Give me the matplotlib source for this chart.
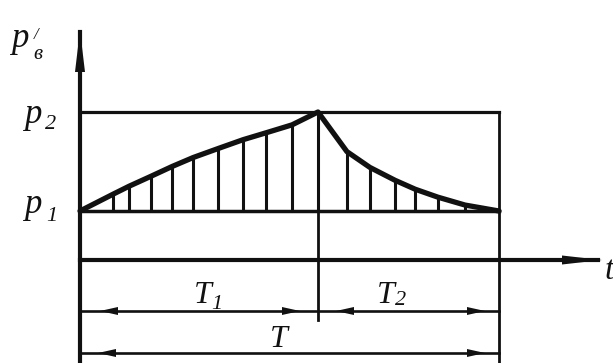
import numpy as np
import matplotlib.pyplot as plt
from matplotlib.patches import Polygon

# pressure levels and time split of one cycle
p1, p2 = 1.0, 2.0
T, T1 = 1.0, 0.568

# rising branch p'(t) over T1
t_rise = [0.0, 0.079, 0.117, 0.169, 0.220, 0.270, 0.329, 0.389, 0.444, 0.506, 0.568]
p_rise = [1.0, 1.17, 1.25, 1.35, 1.45, 1.54, 1.63, 1.72, 1.79, 1.87, 2.0]
# falling branch over T2
t_fall = [0.568, 0.637, 0.692, 0.752, 0.800, 0.854, 0.919, 1.0]
p_fall = [2.0, 1.60, 1.44, 1.31, 1.22, 1.14, 1.06, 1.0]

# page layout in pixels
W, H = 613, 363
X0, X1 = 80, 499      # columns of t=0 and t=T
Y1, Y2 = 211, 112     # rows of p1 and p2
sx = (X1 - X0) / T
sy = (Y1 - Y2) / (p2 - p1)


def tx(x):
    return (x - X0) / sx


def py(y):
    return p1 + (Y1 - y) / sy


fig = plt.figure(figsize=(W / 100, H / 100), dpi=100)
ax = fig.add_axes([0, 0, 1, 1])
ax.set_xlim(tx(0), tx(W))
ax.set_ylim(py(H), py(0))
ax.set_axis_off()

k = '#111111'


def head(x, y, d, length=18, width=8):
    if d in 'lr':
        s = 1 if d == 'r' else -1
        bx = x - s * length / sx
        pts = [(x, y), (bx, y + width / 2 / sy), (bx, y - width / 2 / sy)]
    else:
        by = y - length / sy
        pts = [(x, y), (x - width / 2 / sx, by), (x + width / 2 / sx, by)]
    ax.add_patch(Polygon(pts, closed=True, color=k, lw=0))


# axes
ax.plot([0, 0], [py(H), py(32)], color=k, lw=3.0)
head(0, py(30), 'u', 42, 10)
t_axis = py(260)
ax.plot([0, tx(598)], [t_axis, t_axis], color=k, lw=3.0)
head(tx(602), t_axis, 'r', 40, 9)

# frame p1..p2
ax.plot([0, T], [p2, p2], color=k, lw=2.3)
ax.plot([0, T], [p1, p1], color=k, lw=2.5)
ax.plot([T, T], [p2, py(H)], color=k, lw=2.0)
ax.plot([T1, T1], [p2, py(320)], color=k, lw=2.0)

# curve and hatching
t_all = t_rise + t_fall[1:]
p_all = p_rise + p_fall[1:]
ax.plot(t_all, p_all, color=k, lw=3.8, solid_joinstyle='round', solid_capstyle='round')
ax.vlines(t_all[1:-1], p1, p_all[1:-1], color=k, lw=2.2)

# dimension lines
d1 = py(311)
ax.plot([0, T], [d1, d1], color=k, lw=1.9)
head(20 / sx, d1, 'l')
head(T1 - 18 / sx, d1, 'r')
head(T1 + 18 / sx, d1, 'l')
head(T - 14 / sx, d1, 'r')
d2 = py(353)
ax.plot([0, T], [d2, d2], color=k, lw=1.9)
head(18 / sx, d2, 'l')
head(T - 14 / sx, d2, 'r')

# labels
f = dict(family='Liberation Serif', style='italic', color=k, va='baseline', ha='left')
ax.text(tx(11), py(47), 'p', fontsize=25, **f)
ax.text(tx(34), py(39), '/', fontsize=12, **f)
ax.text(tx(33), py(59), 'в', fontsize=15, **f)
ax.text(tx(24), py(123), 'p', fontsize=25, **f)
ax.text(tx(45), py(129), '2', fontsize=16, **f)
ax.text(tx(24), py(213), 'p', fontsize=25, **f)
ax.text(tx(46), py(221), '1', fontsize=16, **f)
ax.text(tx(194), py(303), 'T', fontsize=23, **f)
ax.text(tx(211), py(309), '1', fontsize=16, **f)
ax.text(tx(377), py(303), 'T', fontsize=23, **f)
ax.text(tx(395), py(305), '2', fontsize=16, **f)
ax.text(tx(270), py(347), 'T', fontsize=23, **f)
ax.text(tx(605), py(279), 't', fontsize=24, **f)

fig.savefig('out.png', dpi=100)
